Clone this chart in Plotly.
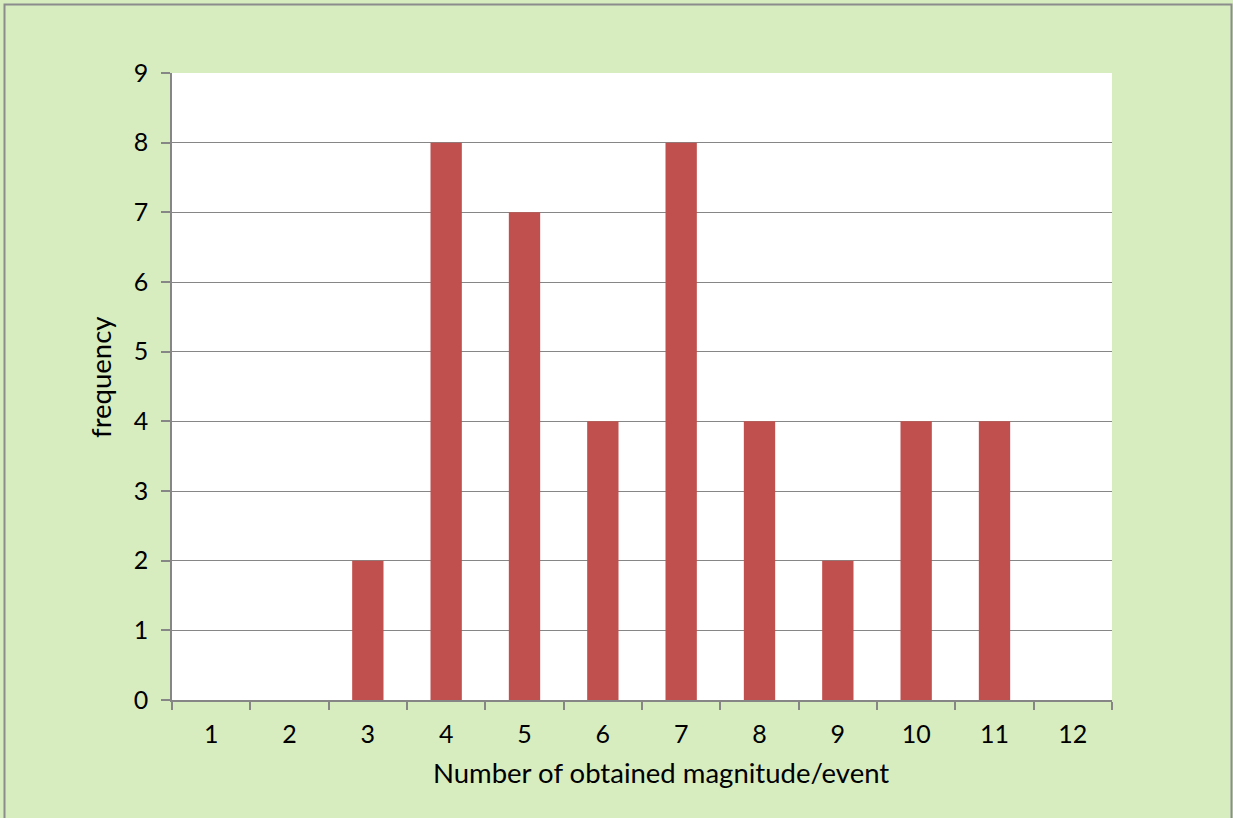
import plotly.graph_objects as go

categories = [str(i) for i in range(1, 13)]
frequency = [0, 0, 2, 8, 7, 4, 8, 4, 2, 4, 4, 0]
y_ticks = list(range(0, 10))
x_title = "Number of obtained magnitude/event"
y_title = "frequency"

W, H = 1233, 818
L, R, T, B = 172, 121, 73, 118
pw, ph = W - L - R, H - T - B


def px(x):
    return (x - L) / pw


def py(y):
    return (H - B - y) / ph


FAMILY = "Lato, Liberation Sans, sans-serif"
font = dict(family=FAMILY, size=25, color="#000000")
title_font = dict(family=FAMILY, size=27.5, color="#000000")

fig = go.Figure(go.Bar(x=categories, y=frequency, marker=dict(color="#C0504D", line=dict(width=0))))

fig.update_layout(
    width=W, height=H,
    margin=dict(l=L, r=R, t=T, b=B),
    paper_bgcolor="#D7EDC0",
    plot_bgcolor="#FFFFFF",
    bargap=0.6,
    font=font,
    showlegend=False,
    xaxis=dict(
        type="category", tickson="boundaries", ticks="outside", ticklen=8, tickcolor="#868686",
        tickwidth=1.5, ticklabelstandoff=11,
        showline=True, linecolor="#868686", linewidth=1.5, showgrid=False,
    ),
    yaxis=dict(
        range=[0, 9], tickvals=y_ticks, ticks="outside", ticklen=9, tickcolor="#868686",
        tickwidth=1.5, ticklabelstandoff=8,
        showline=True, linecolor="#868686", linewidth=1.5,
        showgrid=True, gridcolor="#868686", gridwidth=1, zeroline=False,
    ),
    annotations=[
        dict(text=x_title, xref="paper", yref="paper", x=px(660.5), y=py(772),
             xanchor="center", yanchor="middle", showarrow=False, font=title_font),
        dict(text=y_title, xref="paper", yref="paper", x=px(100), y=py(377),
             xanchor="center", yanchor="middle", showarrow=False, textangle=-90, font=title_font),
    ],
    shapes=[dict(
        type="rect", xref="paper", yref="paper",
        x0=px(4.5), x1=px(1231.5),
        y0=py(822), y1=py(4.5),
        line=dict(color="#8C8C8C", width=2), fillcolor="rgba(0,0,0,0)", layer="below",
    )],
)

fig.write_html(
    "out.html",
    config={"displayModeBar": False},
    post_script="document.body.style.margin='0';document.body.style.background='#D7EDC0';",
)
